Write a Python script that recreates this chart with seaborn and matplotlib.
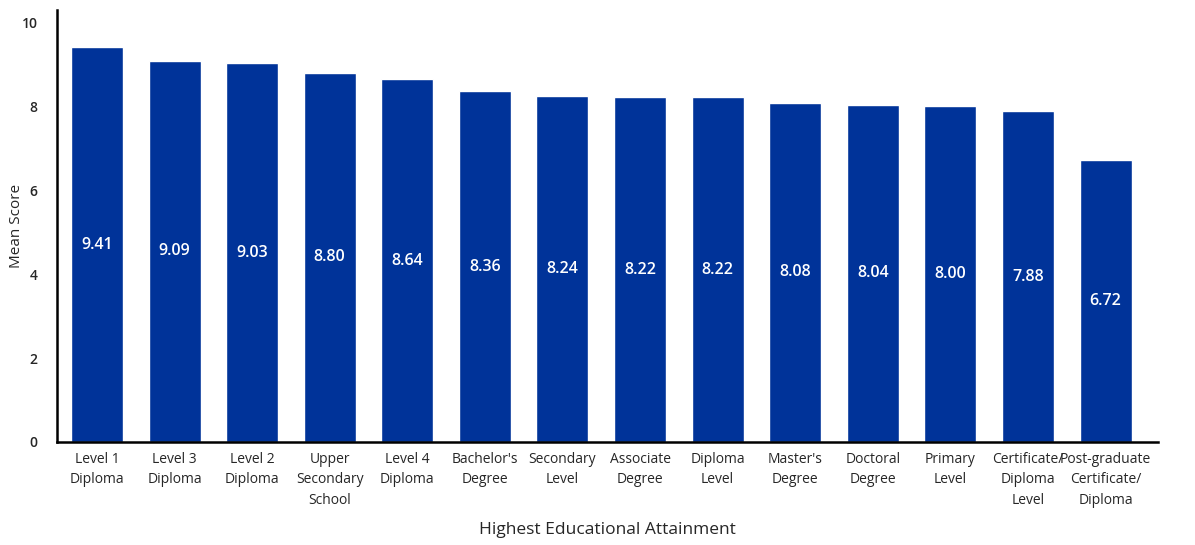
import matplotlib
matplotlib.use("Agg")
import matplotlib.pyplot as plt
import seaborn as sns
import pandas as pd

categories = [
    "Level 1\nDiploma", "Level 3\nDiploma", "Level 2\nDiploma",
    "Upper\nSecondary\nSchool", "Level 4\nDiploma", "Bachelor's\nDegree",
    "Secondary\nLevel", "Associate\nDegree", "Diploma\nLevel",
    "Master's\nDegree", "Doctoral\nDegree", "Primary\nLevel",
    "Certificate/\nDiploma\nLevel", "Post-graduate\nCertificate/\nDiploma",
]
mean_scores = [9.41, 9.09, 9.03, 8.80, 8.64, 8.36, 8.24, 8.22, 8.22,
               8.08, 8.04, 8.00, 7.88, 6.72]
y_ticks = [0, 2, 4, 6, 8, 10]

sns.set_theme(style="white")
plt.rcParams["font.family"] = ["Open Sans", "DejaVu Sans"]

df = pd.DataFrame({"category": categories, "score": mean_scores})

fig = plt.figure(figsize=(11.95, 5.45), dpi=100)
ax = fig.add_axes([0.0477, 0.189, 0.921, 0.793])

sns.barplot(data=df, x="category", y="score", color="#003399",
            saturation=1, width=0.67, ax=ax)

for patch, val in zip(ax.patches, mean_scores):
    ax.text(patch.get_x() + patch.get_width() / 2, val / 2, f"{val:.2f}",
            ha="center", va="center", color="white", fontsize=11.5,
            fontweight="semibold")

ax.set_ylim(0, 10.3)
ax.set_xlim(-0.515, 13.67)
ax.set_yticks(y_ticks)
ax.set_yticklabels([str(t) for t in y_ticks], fontsize=10, fontweight="semibold")
ax.tick_params(axis="x", labelsize=10, length=0, pad=7)
ax.tick_params(axis="y", length=0, pad=14)
for lbl in ax.get_xticklabels():
    lbl.set_fontweight("medium")
    lbl.set_linespacing(1.5)

ax.set_xlabel("Highest Educational Attainment", fontsize=12.5, fontweight="medium")
ax.set_ylabel("Mean Score", fontsize=11)
ax.xaxis.set_label_coords(0.5, -0.204)
ax.yaxis.set_label_coords(-0.037, 0.5)
ax.xaxis.label.set_va("center")
ax.yaxis.label.set_va("center")

for side in ["top", "right"]:
    ax.spines[side].set_visible(False)
for side in ["left", "bottom"]:
    ax.spines[side].set_color("black")
    ax.spines[side].set_linewidth(1.8)

fig.savefig("out.png", dpi=100)
